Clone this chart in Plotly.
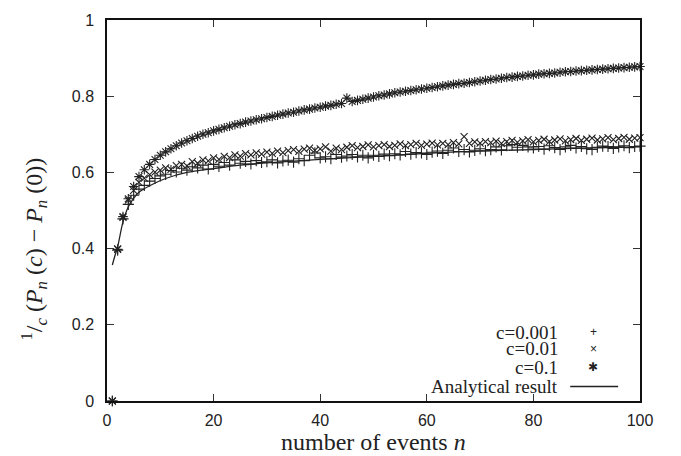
import plotly.graph_objects as go

n = list(range(1, 101))

c0001 = [0.000, 0.396, 0.478, 0.516, 0.540, 0.556, 0.566, 0.577, 0.584, 0.591,
         0.595, 0.605, 0.601, 0.611, 0.606, 0.615, 0.612, 0.619, 0.609, 0.621,
         0.616, 0.626, 0.619, 0.633, 0.624, 0.629, 0.622, 0.631, 0.626, 0.628,
         0.633, 0.625, 0.630, 0.632, 0.627, 0.636, 0.631, 0.645, 0.651, 0.638,
         0.641, 0.636, 0.647, 0.640, 0.643, 0.647, 0.641, 0.645, 0.638, 0.645,
         0.642, 0.648, 0.644, 0.649, 0.646, 0.655, 0.648, 0.652, 0.651, 0.647,
         0.653, 0.656, 0.650, 0.658, 0.664, 0.655, 0.660, 0.654, 0.658, 0.662,
         0.657, 0.660, 0.667, 0.659, 0.670, 0.673, 0.666, 0.671, 0.667, 0.664,
         0.668, 0.661, 0.670, 0.665, 0.660, 0.667, 0.671, 0.664, 0.668, 0.662,
         0.660, 0.666, 0.669, 0.668, 0.663, 0.667, 0.670, 0.665, 0.668, 0.669]

c001 = [0.000, 0.399, 0.482, 0.527, 0.553, 0.574, 0.585, 0.594, 0.601, 0.606,
        0.612, 0.608, 0.618, 0.621, 0.617, 0.628, 0.624, 0.633, 0.630, 0.638,
        0.634, 0.642, 0.639, 0.646, 0.643, 0.649, 0.646, 0.651, 0.648, 0.653,
        0.650, 0.656, 0.652, 0.657, 0.660, 0.655, 0.661, 0.664, 0.658, 0.662,
        0.667, 0.656, 0.664, 0.660, 0.666, 0.670, 0.665, 0.668, 0.672, 0.667,
        0.670, 0.673, 0.668, 0.671, 0.675, 0.670, 0.673, 0.676, 0.671, 0.674,
        0.677, 0.672, 0.676, 0.673, 0.678, 0.675, 0.694, 0.676, 0.680, 0.677,
        0.681, 0.678, 0.682, 0.676, 0.681, 0.684, 0.679, 0.683, 0.686, 0.680,
        0.684, 0.687, 0.681, 0.685, 0.688, 0.683, 0.686, 0.689, 0.684, 0.687,
        0.690, 0.685, 0.688, 0.691, 0.686, 0.689, 0.692, 0.687, 0.690, 0.691]

c01 = [0.000, 0.398, 0.484, 0.531, 0.563, 0.589, 0.607, 0.621, 0.634, 0.645,
       0.654, 0.662, 0.670, 0.677, 0.683, 0.689, 0.695, 0.700, 0.704, 0.709,
       0.713, 0.717, 0.721, 0.725, 0.728, 0.732, 0.735, 0.738, 0.741, 0.744,
       0.747, 0.750, 0.753, 0.756, 0.758, 0.761, 0.764, 0.766, 0.769, 0.771,
       0.774, 0.776, 0.779, 0.781, 0.795, 0.786, 0.789, 0.792, 0.795, 0.798,
       0.801, 0.803, 0.806, 0.809, 0.811, 0.813, 0.815, 0.817, 0.819, 0.821,
       0.823, 0.825, 0.827, 0.829, 0.831, 0.833, 0.834, 0.836, 0.838, 0.840,
       0.842, 0.844, 0.845, 0.847, 0.849, 0.850, 0.852, 0.853, 0.855, 0.856,
       0.858, 0.859, 0.860, 0.861, 0.863, 0.864, 0.865, 0.866, 0.867, 0.868,
       0.869, 0.870, 0.871, 0.872, 0.873, 0.874, 0.875, 0.876, 0.877, 0.878]

an_n = [1, 1.5, 2, 3, 4, 5, 6, 8, 11, 15, 20, 25, 30, 40, 50, 60, 70, 80, 90, 100]
an_y = [0.357, 0.382, 0.405, 0.470, 0.510, 0.532, 0.548, 0.565, 0.584, 0.600,
        0.610, 0.619, 0.625, 0.634, 0.642, 0.650, 0.656, 0.660, 0.664, 0.667]

xticks = [0, 20, 40, 60, 80, 100]
yticks = [0, 0.2, 0.4, 0.6, 0.8, 1]
ytick_text = ["0", "0.2", "0.4", "0.6", "0.8", "1"]

legend_labels = ["c=0.001", "c=0.01", "c=0.1", "Analytical result"]

ink = "#222222"
serif = "Liberation Serif, DejaVu Serif, serif"
sans = "Liberation Sans, Arial, sans-serif"

fig = go.Figure()
for ys, sym, sz in [(c0001, "cross-thin-open", 8), (c001, "x-thin-open", 7), (c01, "asterisk-open", 8)]:
    fig.add_trace(go.Scatter(x=n, y=ys, mode="markers",
                             marker=dict(symbol=sym, size=sz, color=ink,
                                         line=dict(color=ink, width=1.1)),
                             showlegend=False, cliponaxis=False))
fig.add_trace(go.Scatter(x=an_n, y=an_y, mode="lines", line=dict(color=ink, width=1.3, shape="spline"),
                         showlegend=False))

axis_common = dict(showline=True, mirror="allticks", linecolor="#111111", linewidth=1.5,
                   ticks="inside", ticklen=7, tickwidth=1, tickcolor="#333333",
                   showgrid=False, zeroline=False,
                   tickfont=dict(family=sans, size=16, color=ink))

fig.update_xaxes(range=[0, 100], tickvals=xticks, ticklabelstandoff=4, **axis_common)
fig.update_yaxes(range=[0, 1], tickvals=yticks, ticktext=ytick_text, ticklabelstandoff=8, **axis_common)

annotations = []
annotations.append(dict(
    text="<sup>1</sup>/<sub><i>c</i></sub> (<i>P</i><sub><i>n</i></sub> (<i>c</i>) − <i>P</i><sub><i>n</i></sub> (0))",
    xref="paper", yref="paper", x=-0.137, y=0.40, textangle=-90, showarrow=False,
    font=dict(family=serif, size=24, color=ink), xanchor="center", yanchor="middle"))
annotations.append(dict(
    text="number of events <i>n</i>", xref="paper", yref="paper", x=0.5, y=-0.107,
    xanchor="center", yanchor="middle", showarrow=False,
    font=dict(family=serif, size=24, color=ink)))

rows_y = [0.181, 0.137, 0.089, 0.038]
symbols = ["+", "×", "✱"]
for i, lab in enumerate(legend_labels):
    annotations.append(dict(text=lab, xref="paper", yref="paper", x=0.850, y=rows_y[i],
                            xanchor="right", yanchor="middle", showarrow=False,
                            font=dict(family=serif, size=19, color=ink)))
    if i < 3:
        annotations.append(dict(text=symbols[i], xref="paper", yref="paper", x=0.912, y=rows_y[i],
                                xanchor="center", yanchor="middle", showarrow=False,
                                font=dict(family=sans, size=12, color=ink)))

fig.update_layout(
    width=681, height=456,
    margin=dict(l=107, r=41, t=16, b=55),
    paper_bgcolor="white", plot_bgcolor="white",
    annotations=annotations,
    shapes=[dict(type="line", xref="paper", yref="paper", x0=0.869, x1=0.959,
                 y0=rows_y[3], y1=rows_y[3], line=dict(color=ink, width=1.3))],
)

post = (
    "var h=document.documentElement, b=document.body;"
    "h.style.margin='0'; b.style.margin='0'; b.style.padding='0';"
    "h.style.overflow='hidden'; b.style.overflow='hidden';"
    "var g=document.getElementById('{plot_id}');"
    "g.style.position='fixed'; g.style.left='0px'; g.style.top='0px';"
)

fig.write_html("out.html", config={"displayModeBar": False}, post_script=post)
